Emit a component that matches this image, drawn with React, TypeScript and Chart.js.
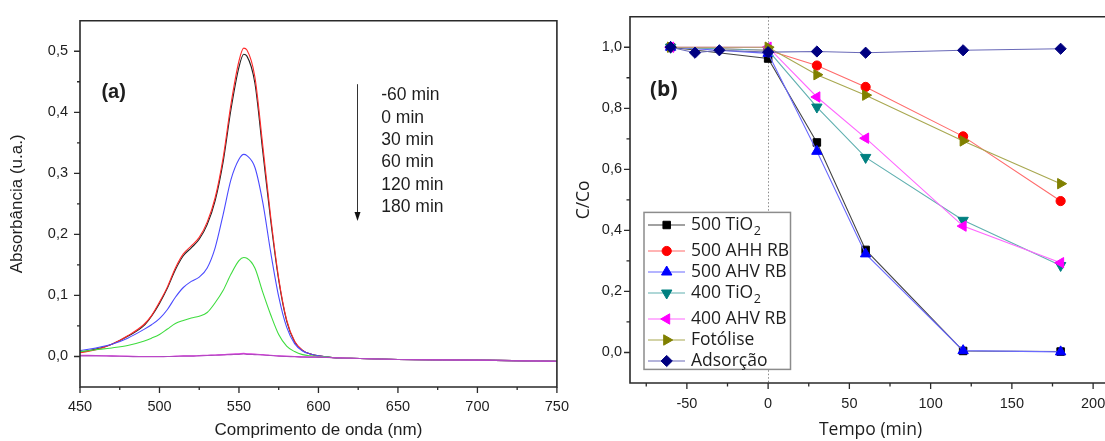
import React, { useEffect, useRef } from 'react';
import { Chart, registerables } from 'chart.js';
import { drawPoint } from 'chart.js/helpers';

Chart.register(...registerables);

// ---------- Panel (a): UV-Vis spectra ----------
const wavelengths = [450, 460, 470, 480, 490, 495, 500, 505, 510, 515, 520, 525, 530, 535, 540, 545, 550, 553, 555, 560, 565, 570, 575, 580, 585, 590, 595, 600, 610, 620, 650, 700, 750];
const timeLabels = ['-60 min', '0 min', '30 min', '60 min', '120 min', '180 min'];
const absM60 = [0.007, 0.012, 0.02, 0.033, 0.05, 0.066, 0.087, 0.112, 0.142, 0.165, 0.178, 0.192, 0.216, 0.255, 0.318, 0.405, 0.474, 0.495, 0.492, 0.448, 0.335, 0.222, 0.125, 0.058, 0.024, 0.010, 0.004, 0.001, -0.002, -0.003, -0.005, -0.006, -0.008];
const abs0 = [0.006, 0.011, 0.02, 0.034, 0.052, 0.067, 0.089, 0.114, 0.145, 0.168, 0.181, 0.195, 0.22, 0.26, 0.325, 0.414, 0.484, 0.505, 0.502, 0.458, 0.345, 0.228, 0.128, 0.06, 0.025, 0.010, 0.004, 0.001, -0.002, -0.003, -0.005, -0.006, -0.008];
const abs30 = [0.0095, 0.014, 0.02, 0.03, 0.044, 0.052, 0.062, 0.077, 0.097, 0.113, 0.123, 0.13, 0.145, 0.178, 0.232, 0.29, 0.323, 0.331, 0.329, 0.31, 0.252, 0.17, 0.098, 0.048, 0.021, 0.009, 0.004, 0.001, -0.002, -0.003, -0.005, -0.006, -0.008];
const abs60 = [0.008, 0.011, 0.014, 0.018, 0.025, 0.03, 0.036, 0.045, 0.054, 0.059, 0.063, 0.066, 0.072, 0.088, 0.108, 0.135, 0.157, 0.162, 0.161, 0.145, 0.105, 0.068, 0.036, 0.017, 0.008, 0.003, 0.001, 0.0, -0.002, -0.003, -0.005, -0.006, -0.008];
const abs120 = [0.002, 0.0015, 0.001, 0.0005, 0.0, 0.0, 0.0, 0.0, 0.0005, 0.001, 0.001, 0.0015, 0.002, 0.0025, 0.003, 0.004, 0.0045, 0.005, 0.0045, 0.004, 0.003, 0.002, 0.001, 0.0005, 0.0, -0.0005, -0.001, -0.001, -0.002, -0.003, -0.005, -0.006, -0.008];
const abs180 = [0.001, 0.001, 0.0005, 0.0, -0.0005, -0.0005, -0.0005, 0.0, 0.0, 0.0005, 0.0005, 0.001, 0.0015, 0.002, 0.0025, 0.003, 0.0035, 0.004, 0.0035, 0.003, 0.0025, 0.0015, 0.0005, 0.0, -0.0005, -0.001, -0.001, -0.0015, -0.002, -0.003, -0.005, -0.006, -0.008];
const spectraColors = ['#222222', '#ff2a2a', '#4a4aff', '#3edc3e', '#e040e0', '#b048c0'];
const xTicksA = [450, 500, 550, 600, 650, 700, 750];
const xMinorA = [475, 525, 575, 625, 675, 725];
const yTicksA = [0, 0.1, 0.2, 0.3, 0.4, 0.5];
const yMinorA = [0.05, 0.15, 0.25, 0.35, 0.45];

// ---------- Panel (b): C/Co vs time ----------
const times = [-60, -45, -30, 0, 30, 60, 120, 180];
const seriesLabels = ['500 TiO2', '500 AHH RB', '500 AHV RB', '400 TiO2', '400 AHV RB', 'Fotólise', 'Adsorção'];
const tio2_500 = [1.0, null, null, 0.963, 0.688, 0.336, 0.005, 0.003];
const ahh_500 = [1.0, null, null, 0.99, 0.94, 0.87, 0.708, 0.496];
const ahv_500 = [1.0, null, null, 0.98, 0.659, 0.323, 0.006, 0.002];
const tio2_400 = [1.0, null, null, 0.99, 0.804, 0.639, 0.433, 0.285];
const ahv_400 = [1.0, null, null, 1.0, 0.837, 0.702, 0.414, 0.294];
const fotolise = [1.0, null, null, 1.0, 0.91, 0.843, 0.693, 0.553];
const adsorcao = [1.0, 0.982, 0.99, 0.984, 0.986, 0.982, 0.99, 0.995];
const markerColors = ['#000000', '#ff0000', '#0000ff', '#008080', '#ff00ff', '#808000', '#000080'];
const lineColors = ['#444444', '#ff6a6a', '#6a6aff', '#60b0b0', '#ff66ff', '#a8a850', '#6a6ab8'];
const pointStyles = ['rect', 'circle', 'triangle', 'triangle', 'triangle', 'triangle', 'rectRot'];
const pointRotations = [0, 0, 0, 180, -90, 90, 0];
const pointRadii = [5.3, 4.6, 6, 6, 6, 6, 5.6];
const xTicksB = [-50, 0, 50, 100, 150, 200];
const xMinorB = [-75, -25, 25, 75, 125, 175];
const yTicksB = [0, 0.2, 0.4, 0.6, 0.8, 1.0];
const yMinorB = [0.1, 0.3, 0.5, 0.7, 0.9];

const AXIS_COLOR = '#2a2a2a';
const TEXT_COLOR = '#1e1e1e';
const ARIAL = '"Liberation Sans", Arial, sans-serif';
const OPEN = '"Open Sans", "Liberation Sans", sans-serif';

const fmtComma = (v: number) => v.toFixed(1).replace('.', ',');

const axisFrame = {
  id: 'axisFrame',
  afterDraw(chart: any, _args: any, o: any) {
    const { ctx, chartArea: ca, scales } = chart;
    const xs = scales.x, ys = scales.y;
    ctx.save();
    ctx.strokeStyle = AXIS_COLOR;
    ctx.lineWidth = 1.6;
    ctx.beginPath();
    ctx.rect(ca.left, ca.top, ca.right - ca.left, ca.bottom - ca.top);
    ctx.stroke();
    ctx.lineWidth = 1.3;
    ctx.beginPath();
    (o.majorX || []).forEach((v: number) => { const p = xs.getPixelForValue(v); ctx.moveTo(p, ca.bottom); ctx.lineTo(p, ca.bottom + o.majorLen); });
    (o.minorX || []).forEach((v: number) => { const p = xs.getPixelForValue(v); ctx.moveTo(p, ca.bottom); ctx.lineTo(p, ca.bottom + o.minorLen); });
    (o.majorY || []).forEach((v: number) => { const p = ys.getPixelForValue(v); ctx.moveTo(ca.left, p); ctx.lineTo(ca.left - o.majorLen, p); });
    (o.minorY || []).forEach((v: number) => { const p = ys.getPixelForValue(v); ctx.moveTo(ca.left, p); ctx.lineTo(ca.left - o.minorLen, p); });
    ctx.stroke();
    ctx.restore();
  },
};

const annotA = {
  id: 'annotA',
  afterDraw(chart: any) {
    const { ctx, scales } = chart;
    const xs = scales.x, ys = scales.y;
    ctx.save();
    ctx.fillStyle = TEXT_COLOR;
    ctx.font = `bold 20px ${ARIAL}`;
    ctx.textBaseline = 'middle';
    ctx.textAlign = 'left';
    ctx.fillText('(a)', xs.getPixelForValue(463.5), ys.getPixelForValue(0.432));
    // arrow
    const ax = Math.round(xs.getPixelForValue(624)) + 0.5;
    const y1 = ys.getPixelForValue(0.446);
    const y2 = ys.getPixelForValue(0.222);
    ctx.strokeStyle = '#333';
    ctx.lineWidth = 1;
    ctx.beginPath();
    ctx.moveTo(ax, y1);
    ctx.lineTo(ax, y2 - 6);
    ctx.stroke();
    ctx.fillStyle = '#111';
    ctx.beginPath();
    ctx.moveTo(ax - 3, y2 - 9);
    ctx.lineTo(ax + 3, y2 - 9);
    ctx.lineTo(ax, y2);
    ctx.closePath();
    ctx.fill();
    // time labels
    ctx.fillStyle = TEXT_COLOR;
    ctx.font = `17.5px ${ARIAL}`;
    const tx = xs.getPixelForValue(639.5);
    const ty = ys.getPixelForValue(0.4275);
    timeLabels.forEach((t, i) => ctx.fillText(t, tx, ty + i * 22.3));
    ctx.restore();
  },
};

const zeroLineB = {
  id: 'zeroLineB',
  beforeDatasetsDraw(chart: any) {
    const { ctx, chartArea: ca, scales } = chart;
    const px = Math.round(scales.x.getPixelForValue(0)) + 0.5;
    ctx.save();
    ctx.strokeStyle = '#8a8a8a';
    ctx.lineWidth = 1;
    ctx.setLineDash([1.5, 2]);
    ctx.beginPath();
    ctx.moveTo(px, ca.top);
    ctx.lineTo(px, ca.bottom);
    ctx.stroke();
    ctx.restore();
  },
};

const annotB = {
  id: 'annotB',
  afterDraw(chart: any) {
    const { ctx, chartArea: ca, scales } = chart;
    ctx.save();
    ctx.fillStyle = TEXT_COLOR;
    ctx.font = `bold 21px ${OPEN}`;
    ctx.textBaseline = 'middle';
    ctx.textAlign = 'left';
    ctx.fillText('(b)', scales.x.getPixelForValue(-72.7), scales.y.getPixelForValue(0.86));

    // legend box
    const left = ca.left + 14;
    const top = ca.top + 195.7;
    const w = 146.5;
    const h = 157;
    ctx.fillStyle = '#ffffff';
    ctx.fillRect(left, top, w, h);
    ctx.strokeStyle = '#8c8c8c';
    ctx.lineWidth = 1.5;
    ctx.strokeRect(left, top, w, h);
    let y = top + 12.6;
    chart.data.datasets.forEach((ds: any) => {
      ctx.strokeStyle = ds.borderColor;
      ctx.lineWidth = 1.2;
      ctx.beginPath();
      ctx.moveTo(left + 4, y);
      ctx.lineTo(left + 41, y);
      ctx.stroke();
      ctx.fillStyle = ds.pointBackgroundColor;
      ctx.strokeStyle = ds.pointBorderColor;
      ctx.lineWidth = 1;
      drawPoint(ctx, { pointStyle: ds.pointStyle, rotation: ds.pointRotation, radius: ds.pointRadius, borderWidth: 1 } as any, left + 22.7, y);
      ctx.fillStyle = TEXT_COLOR;
      ctx.font = `17.5px ${OPEN}`;
      ctx.textBaseline = 'middle';
      const lbl: string = ds.label;
      const tx = left + 47;
      const sub = lbl.endsWith('TiO2');
      if (sub) {
        const main = lbl.slice(0, -1);
        ctx.fillText(main, tx, y);
        const mw = ctx.measureText(main).width;
        ctx.font = `12.5px ${OPEN}`;
        ctx.fillText('2', tx + mw + 0.5, y + 6);
      } else {
        ctx.fillText(lbl, tx, y);
      }
      y += 21 + (sub ? 5 : 0);
    });
    ctx.restore();
  },
};

export default function App() {
  const refA = useRef<HTMLCanvasElement>(null);
  const refB = useRef<HTMLCanvasElement>(null);

  useEffect(() => {
    const spectra = [absM60, abs0, abs30, abs60, abs120, abs180];
    const chartA = new Chart(refA.current as HTMLCanvasElement, {
      type: 'line',
      data: {
        datasets: spectra.map((arr, i) => ({
          label: timeLabels[i],
          data: wavelengths.map((w, j) => ({ x: w, y: arr[j] })),
          borderColor: spectraColors[i],
          borderWidth: 1.1,
          pointRadius: 0,
          cubicInterpolationMode: 'monotone' as const,
          fill: false,
          order: spectra.length - i,
        })),
      },
      options: {
        responsive: false,
        maintainAspectRatio: false,
        animation: false,
        devicePixelRatio: 1,
        layout: { padding: { left: 0, right: 19, top: 15, bottom: 0 } },
        plugins: {
          legend: { display: false },
          tooltip: { enabled: false },
          axisFrame: { majorX: xTicksA, minorX: xMinorA, majorY: yTicksA, minorY: yMinorA, majorLen: 6, minorLen: 3 },
        } as any,
        scales: {
          x: {
            type: 'linear',
            min: 450,
            max: 750,
            afterBuildTicks: (s: any) => { s.ticks = xTicksA.map((v) => ({ value: v })); },
            afterFit: (s: any) => { s.height = 54; },
            grid: { display: false, drawTicks: false, tickLength: 0 },
            border: { display: false },
            ticks: { padding: 11, color: TEXT_COLOR, font: { family: ARIAL, size: 14.5 }, maxRotation: 0, callback: (v: any) => String(v) },
            title: { display: true, text: 'Comprimento de onda (nm)', color: TEXT_COLOR, font: { family: ARIAL, size: 17, lineHeight: 1.2 }, padding: { top: 0, bottom: 0 } },
          },
          y: {
            type: 'linear',
            min: -0.05,
            max: 0.55,
            afterBuildTicks: (s: any) => { s.ticks = yTicksA.map((v) => ({ value: v })); },
            afterFit: (s: any) => { s.width = 80; },
            grid: { display: false, drawTicks: false, tickLength: 0 },
            border: { display: false },
            ticks: { padding: 12, color: TEXT_COLOR, font: { family: ARIAL, size: 14.5 }, callback: (v: any) => fmtComma(Number(v)) },
            title: { display: true, text: 'Absorbância (u.a.)', color: TEXT_COLOR, font: { family: ARIAL, size: 17, lineHeight: 1.2 }, padding: { top: 7, bottom: 0 } },
          },
        },
      } as any,
      plugins: [axisFrame, annotA],
    });

    const seriesB = [tio2_500, ahh_500, ahv_500, tio2_400, ahv_400, fotolise, adsorcao];
    const chartB = new Chart(refB.current as HTMLCanvasElement, {
      type: 'line',
      data: {
        datasets: seriesB.map((arr, i) => ({
          label: seriesLabels[i],
          data: times.map((t, j) => ({ x: t, y: arr[j] })).filter((p) => p.y !== null),
          borderColor: lineColors[i],
          borderWidth: 1.1,
          pointStyle: pointStyles[i],
          pointRotation: pointRotations[i],
          pointRadius: pointRadii[i],
          pointBackgroundColor: markerColors[i],
          pointBorderColor: markerColors[i],
          pointBorderWidth: 1,
          tension: 0,
          fill: false,
          order: seriesB.length - i,
        })),
      },
      options: {
        responsive: false,
        maintainAspectRatio: false,
        animation: false,
        devicePixelRatio: 1,
        layout: { padding: { left: 0, right: 19, top: 15, bottom: 0 } },
        plugins: {
          legend: { display: false },
          tooltip: { enabled: false },
          axisFrame: { majorX: xTicksB, minorX: xMinorB, majorY: yTicksB, minorY: yMinorB, majorLen: 6, minorLen: 3.5 },
        } as any,
        scales: {
          x: {
            type: 'linear',
            min: -85,
            max: 211,
            afterBuildTicks: (s: any) => { s.ticks = xTicksB.map((v) => ({ value: v })); },
            afterFit: (s: any) => { s.height = 58; },
            grid: { display: false, drawTicks: false, tickLength: 0 },
            border: { display: false },
            ticks: { padding: 12, color: TEXT_COLOR, font: { family: ARIAL, size: 14.5 }, maxRotation: 0, callback: (v: any) => String(v) },
            title: { display: true, text: 'Tempo (min)', color: TEXT_COLOR, font: { family: OPEN, size: 17.5, lineHeight: 1.2 }, padding: { top: 0, bottom: 0 } },
          },
          y: {
            type: 'linear',
            min: -0.1,
            max: 1.1,
            afterBuildTicks: (s: any) => { s.ticks = yTicksB.map((v) => ({ value: v })); },
            afterFit: (s: any) => { s.width = 60; },
            grid: { display: false, drawTicks: false, tickLength: 0 },
            border: { display: false },
            ticks: { padding: 8, color: TEXT_COLOR, font: { family: ARIAL, size: 14.5 }, callback: (v: any) => fmtComma(Number(v)) },
            title: { display: true, text: 'C/Co', color: TEXT_COLOR, font: { family: OPEN, size: 17.5, lineHeight: 1.2 }, padding: { top: 4, bottom: 0 } },
          },
        },
      } as any,
      plugins: [axisFrame, zeroLineB, annotB],
    });

    return () => {
      chartA.destroy();
      chartB.destroy();
    };
  }, []);

  return (
    <div style={{ position: 'absolute', left: 0, top: 0, width: 1105, height: 441, overflow: 'hidden', background: '#ffffff' }}>
      <canvas ref={refA} width={580} height={441} style={{ position: 'absolute', left: 0, top: 0, width: 580, height: 441 }} />
      <canvas ref={refB} width={560} height={441} style={{ position: 'absolute', left: 570, top: 0, width: 560, height: 441 }} />
    </div>
  );
}
